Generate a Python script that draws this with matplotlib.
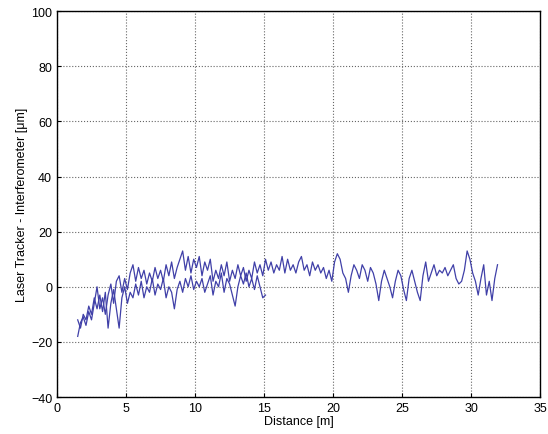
import numpy as np
import matplotlib.pyplot as plt

plt.rcParams['font.family'] = ['Liberation Sans', 'DejaVu Sans']

# pomiar w przod (1.5 m -> 32 m), krok 0.2 m
start1 = 1.5
krok = 0.2
roznica1 = [-18, -13, -11, -14, -9, -12, -6, 0, -8, -4, -10, -3, 1, -6, 2, 4, -2, 3, -1, 5,
            8, 2, 7, 3, 6, 1, 5, 2, 7, 3, 6, 2, 8, 4, 9, 3, 7, 10, 13, 6,
            11, 5, 10, 7, 11, 4, 9, 6, 10, 2, 6, 3, 8, 4, 9, 2, 6, 3, 8, 4,
            7, 2, 6, 3, 9, 5, 8, 4, 10, 6, 9, 5, 8, 6, 11, 5, 10, 6, 8, 5,
            9, 11, 6, 8, 4, 9, 6, 8, 5, 7, 3, 6, 2, 9, 12, 10, 5, 3, -2, 4,
            8, 6, 3, 8, 6, 2, 7, 5, 1, -5, 2, 6, 3, 0, -4, 2, 6, 4, -1, -5,
            3, 6, 2, -2, -5, 4, 9, 2, 5, 8, 4, 6, 5, 7, 4, 6, 8, 3, 1, 2,
            6, 13, 10, 5, 2, -3, 3, 8, -3, 2, -5, 3, 8]

# pomiar powrotny (1.5 m -> 15 m)
start2 = 1.5
roznica2 = [-12, -15, -10, -12, -7, -10, -4, -8, -3, -9, -2, -15, -6, -1, -8, -15, -4, 0, -6, -2,
            -4, 1, -3, 2, -4, 0, -2, 3, -3, 1, -1, 3, -4, 0, -2, -8, -1, 2, -2, 3,
            0, 4, -1, 2, 0, 3, -2, 1, 4, -3, 2, 0, 5, -2, 3, 1, -3, -7, 0, 4,
            1, 5, 0, 3, -1, 4, 0, -4, -3]

x1 = start1 + krok*np.arange(len(roznica1))
x2 = start2 + krok*np.arange(len(roznica2))

fig = plt.figure(figsize=(5.48, 4.35), dpi=100)
ax = fig.add_axes([0.104, 0.085, 0.882, 0.887])

ax.plot(x1, roznica1, color='#4040a8', lw=0.9)
ax.plot(x2, roznica2, color='#4040a8', lw=0.9)

ax.set_xlim(0, 35)
ax.set_ylim(-40, 100)
ax.set_xticks(np.arange(0, 36, 5))
ax.set_yticks(np.arange(-40, 101, 20))
ax.grid(True, linestyle=':', color='0.4', lw=0.8)
ax.tick_params(direction='in', length=3, labelsize=9, width=0.8)
for s in ax.spines.values():
    s.set_linewidth(1.0)

ax.set_xlabel('Distance [m]', fontsize=9, labelpad=1)
ax.set_ylabel('Laser Tracker - Interferometer [\u03bcm]', fontsize=9, labelpad=2)

plt.savefig('out.png', dpi=100)
